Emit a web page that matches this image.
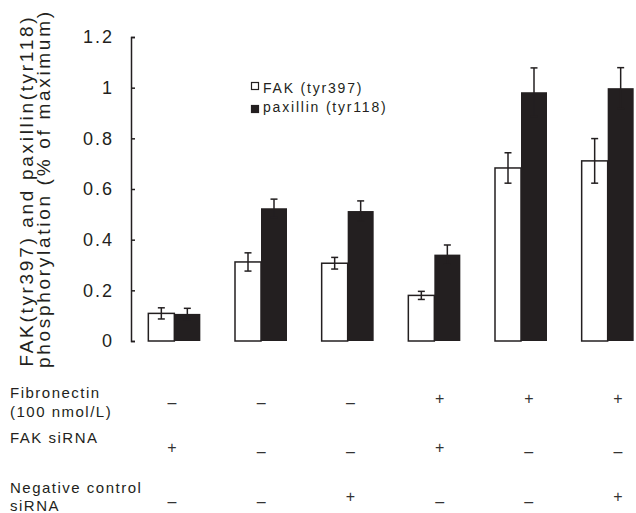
<!DOCTYPE html>
<html>
<head>
<meta charset="utf-8">
<script src="https://cdn.jsdelivr.net/npm/d3@7"></script>
<style>
  body { margin: 0; background: #fff; }
  svg { display: block; font-family: "Liberation Sans", Arial, Helvetica, sans-serif; }
</style>
</head>
<body>
<div id="chart"></div>
<script>
"use strict";

const groups = ["g1", "g2", "g3", "g4", "g5", "g6"];
const fakValues = [0.109, 0.312, 0.307, 0.180, 0.683, 0.711];
const fakErrors = [0.022, 0.036, 0.023, 0.016, 0.060, 0.088];
const paxValues = [0.107, 0.524, 0.513, 0.341, 0.982, 0.998];
const paxErrors = [0.022, 0.036, 0.040, 0.038, 0.096, 0.081];
const yTicks = [0, 0.2, 0.4, 0.6, 0.8, 1, 1.2];
const seriesNames = ["FAK (tyr397)", "paxillin (tyr118)"];

const rowLabels = [
    ["Fibronectin", "(100 nmol/L)"],
    ["FAK siRNA"],
    ["Negative control", "siRNA"],
];
const fibronectin = ["-", "-", "-", "+", "+", "+"];
const fakSirna = ["+", "-", "-", "+", "-", "-"];
const controlSirna = ["-", "-", "+", "-", "-", "+"];

const width = 636;
const height = 513;
const margin = { top: 37, left: 131, bottom: 172 };
const ink = "#231f20";

const svg = d3
    .select("#chart")
    .append("svg")
    .attr("width", width)
    .attr("height", height);

// scales
const y = d3
    .scaleLinear()
    .domain([0, 1.2])
    .range([height - margin.bottom, margin.top]);

const x0 = d3
    .scaleBand()
    .domain(groups)
    .range([margin.left, margin.left + 520])
    .paddingInner(0.4)
    .paddingOuter(0.2);

const x1 = d3
    .scaleBand()
    .domain(["fak", "pax"])
    .range([0, x0.bandwidth()]);

// Y axis
const yAxis = d3
    .axisLeft(y)
    .tickValues(yTicks)
    .tickSize(-4)
    .tickPadding(17)
    .tickFormat(d => (d === 0 || d === 1 ? d3.format("d")(d) : d3.format(".1f")(d)));

const gy = svg
    .append("g")
    .attr("transform", `translate(${margin.left}, 0)`)
    .call(yAxis);
gy.select(".domain").attr("stroke", ink).attr("stroke-width", 1.5);
gy.selectAll(".tick line").attr("stroke", ink).attr("stroke-width", 1.5);
gy.selectAll(".tick text")
    .attr("fill", ink)
    .style("font-size", "18px")
    .style("letter-spacing", "2px");

// Y title
const titleLines = ["FAK(tyr397) and paxillin(tyr118)", "phosphorylation (% of maximum)"];
const titlePos = [
    { x: 33, y: 192, len: 349 },
    { x: 50, y: 190, len: 356 },
];
svg.selectAll(".ytitle")
    .data(titleLines)
    .enter()
    .append("text")
    .attr("class", "ytitle")
    .attr("transform", (_, i) => `translate(${titlePos[i].x}, ${titlePos[i].y}) rotate(-90)`)
    .attr("text-anchor", "middle")
    .attr("fill", ink)
    .style("font-size", "19px")
    .attr("textLength", (_, i) => titlePos[i].len)
    .attr("lengthAdjust", "spacing")
    .text(d => d);

// bars
const groupG = svg
    .selectAll(".group")
    .data(groups)
    .enter()
    .append("g")
    .attr("class", "group")
    .attr("transform", d => `translate(${x0(d)}, 0)`);

groupG.append("rect")
    .attr("x", x1("fak"))
    .attr("y", (_, i) => y(fakValues[i]))
    .attr("width", x1.bandwidth())
    .attr("height", (_, i) => y(0) - y(fakValues[i]))
    .attr("fill", "#fff")
    .attr("stroke", ink)
    .attr("stroke-width", 1.5);

groupG.append("rect")
    .attr("x", x1("pax"))
    .attr("y", (_, i) => y(paxValues[i]))
    .attr("width", x1.bandwidth())
    .attr("height", (_, i) => y(0) - y(paxValues[i]))
    .attr("fill", ink);

// error bars
function errorBar(sel, key, values, errors, color) {
    const cx = x1(key) + x1.bandwidth() / 2;
    sel.append("line")
        .attr("x1", cx)
        .attr("x2", cx)
        .attr("y1", (_, i) => y(values[i] + errors[i]))
        .attr("y2", (_, i) => y(values[i] - errors[i]))
        .attr("stroke", color)
        .attr("stroke-width", 1.5);
    [1, -1].forEach(s => {
        sel.append("line")
            .attr("x1", cx - 3.5)
            .attr("x2", cx + 3.5)
            .attr("y1", (_, i) => y(values[i] + s * errors[i]))
            .attr("y2", (_, i) => y(values[i] + s * errors[i]))
            .attr("stroke", color)
            .attr("stroke-width", 1.5);
    });
}
errorBar(groupG, "fak", fakValues, fakErrors, ink);
errorBar(groupG, "pax", paxValues, paxErrors, ink);

// legend
const legend = svg.append("g").attr("transform", "translate(251, 82)");
seriesNames.forEach((name, i) => {
    legend.append("rect")
        .attr("x", 0.5)
        .attr("y", i * 23 + 0.5)
        .attr("width", 7)
        .attr("height", 7)
        .attr("fill", i === 0 ? "#fff" : ink)
        .attr("stroke", ink)
        .attr("stroke-width", 1.2);
    legend.append("text")
        .attr("x", 12)
        .attr("y", i * 19.5 + 10.5)
        .attr("fill", ink)
        .style("font-size", "14px")
        .style("letter-spacing", "1.8px")
        .text(name);
});

// treatment table
const xs = d3
    .scalePoint()
    .domain(groups)
    .range([172, 618]);

const rowY = [
    { labelY: [398, 417], plusY: 399, dashY: 404 },
    { labelY: [443], plusY: 448, dashY: 453 },
    { labelY: [493, 511], plusY: 497, dashY: 503 },
];
const rowSigns = [fibronectin, fakSirna, controlSirna];

rowLabels.forEach((lines, r) => {
    lines.forEach((line, j) => {
        svg.append("text")
            .attr("x", 10)
            .attr("y", rowY[r].labelY[j])
            .attr("fill", ink)
            .style("font-size", "15px")
            .style("letter-spacing", "1.5px")
            .text(line);
    });
    svg.selectAll(`.sign-${r}`)
        .data(rowSigns[r])
        .enter()
        .append("text")
        .attr("class", `sign-${r}`)
        .attr("x", (_, i) => xs(groups[i]))
        .attr("y", d => (d === "+" ? rowY[r].plusY + 5 : rowY[r].dashY + 4))
        .attr("text-anchor", "middle")
        .attr("fill", "#333")
        .style("font-size", "16px")
        .text(d => (d === "+" ? "+" : "\u2013"));
});
</script>
</body>
</html>
